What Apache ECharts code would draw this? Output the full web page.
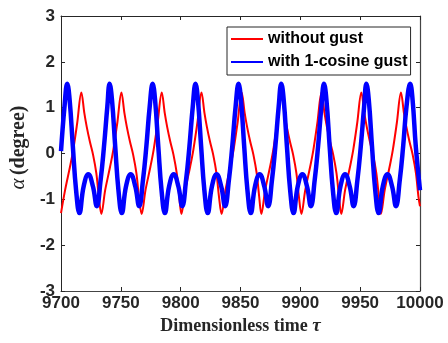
<!DOCTYPE html>
<html>
<head>
<meta charset="utf-8">
<script src="https://cdn.jsdelivr.net/npm/echarts@6/dist/echarts.min.js"></script>
<style>
html,body{margin:0;padding:0;background:#fff;}
#chart{width:448px;height:343px;}
</style>
</head>
<body>
<div id="chart"></div>
<script>
// ---- data ----
const xTicks = [9700, 9750, 9800, 9850, 9900, 9950, 10000];
const yTicks = [-3, -2, -1, 0, 1, 2, 3];
const seriesNames = ['without gust', 'with 1-cosine gust'];

const redTau = [
  9700.0, 9703.4, 9707.5, 9710.2, 9713.5, 9717.0, 9719.5, 9721.5, 9724.1, 9726.8, 9729.5, 9731.6,
  9733.7, 9736.9, 9741.0, 9743.7, 9747.0, 9750.5, 9753.0, 9755.0, 9757.6, 9760.3, 9763.0, 9765.1,
  9767.4, 9770.6, 9774.7, 9777.4, 9780.7, 9784.2, 9786.7, 9788.7, 9791.3, 9794.0, 9796.7, 9798.8,
  9800.6, 9803.8, 9807.9, 9810.6, 9813.9, 9817.4, 9819.9, 9821.9, 9824.5, 9827.2, 9829.9, 9832.0,
  9834.2, 9837.4, 9841.5, 9844.2, 9847.5, 9851.0, 9853.5, 9855.5, 9858.1, 9860.8, 9863.5, 9865.6,
  9867.4, 9870.6, 9874.7, 9877.4, 9880.7, 9884.2, 9886.7, 9888.7, 9891.3, 9894.0, 9896.7, 9898.8,
  9900.9, 9904.1, 9908.2, 9910.9, 9914.2, 9917.7, 9920.2, 9922.2, 9924.8, 9927.5, 9930.2, 9932.3,
  9934.2, 9937.4, 9941.5, 9944.2, 9947.5, 9951.0, 9953.5, 9955.5, 9958.1, 9960.8, 9963.5, 9965.6,
  9967.3, 9970.5, 9974.6, 9977.3, 9980.6, 9984.1, 9986.6, 9988.6, 9991.2, 9993.9, 9996.6, 9998.7,
  10000.0
];
const redAlpha = [
  -1.30, -0.80, -0.29, 0.08, 0.66, 1.33, 0.88, 0.58, 0.26, -0.03, -0.43, -0.94,
  -1.32, -0.80, -0.29, 0.08, 0.66, 1.33, 0.88, 0.58, 0.26, -0.03, -0.43, -0.94,
  -1.32, -0.80, -0.29, 0.08, 0.66, 1.33, 0.88, 0.58, 0.26, -0.03, -0.43, -0.94,
  -1.32, -0.80, -0.29, 0.08, 0.66, 1.33, 0.88, 0.58, 0.26, -0.03, -0.43, -0.94,
  -1.32, -0.80, -0.29, 0.08, 0.66, 1.33, 0.88, 0.58, 0.26, -0.03, -0.43, -0.94,
  -1.32, -0.80, -0.29, 0.08, 0.66, 1.33, 0.88, 0.58, 0.26, -0.03, -0.43, -0.94,
  -1.32, -0.80, -0.29, 0.08, 0.66, 1.33, 0.88, 0.58, 0.26, -0.03, -0.43, -0.94,
  -1.32, -0.80, -0.29, 0.08, 0.66, 1.33, 0.88, 0.58, 0.26, -0.03, -0.43, -0.94,
  -1.32, -0.80, -0.29, 0.08, 0.66, 1.33, 0.88, 0.58, 0.26, -0.03, -0.43, -0.94,
  -1.15
];

const blueTau = [
  9700.0, 9702.9,
  9705.2, 9707.2, 9709.9, 9712.6, 9715.4, 9718.9, 9722.8, 9726.7, 9729.9, 9733.1, 9735.9, 9738.7,
  9740.6, 9742.6, 9745.3, 9748.0, 9750.8, 9754.3, 9758.2, 9762.1, 9765.3, 9768.5, 9771.3, 9774.1,
  9776.6, 9778.6, 9781.3, 9784.0, 9786.8, 9790.3, 9794.2, 9798.1, 9801.3, 9804.5, 9807.3, 9810.1,
  9812.4, 9814.4, 9817.1, 9819.8, 9822.6, 9826.1, 9830.0, 9833.9, 9837.1, 9840.3, 9843.1, 9845.9,
  9848.4, 9850.4, 9853.1, 9855.8, 9858.6, 9862.1, 9866.0, 9869.9, 9873.1, 9876.3, 9879.1, 9881.9,
  9884.1, 9886.1, 9888.8, 9891.5, 9894.3, 9897.8, 9901.7, 9905.6, 9908.8, 9912.0, 9914.8, 9917.6,
  9919.8, 9921.8, 9924.5, 9927.2, 9930.0, 9933.5, 9937.4, 9941.3, 9944.5, 9947.7, 9950.5, 9953.3,
  9955.2, 9957.2, 9959.9, 9962.6, 9965.4, 9968.9, 9972.8, 9976.7, 9979.9, 9983.1, 9985.9, 9988.7,
  9991.8, 9993.8, 9996.5, 10000.0
];
const blueAlpha = [
  0.05, 1.02,
  1.52, 1.17, 0.15, -0.80, -1.30, -0.72, -0.45, -0.72, -1.15, -0.58, 0.15, 1.02,
  1.52, 1.17, 0.15, -0.80, -1.30, -0.72, -0.45, -0.72, -1.15, -0.58, 0.15, 1.02,
  1.52, 1.17, 0.15, -0.80, -1.30, -0.72, -0.45, -0.72, -1.15, -0.58, 0.15, 1.02,
  1.52, 1.17, 0.15, -0.80, -1.30, -0.72, -0.45, -0.72, -1.15, -0.58, 0.15, 1.02,
  1.52, 1.17, 0.15, -0.80, -1.30, -0.72, -0.45, -0.72, -1.15, -0.58, 0.15, 1.02,
  1.52, 1.17, 0.15, -0.80, -1.30, -0.72, -0.45, -0.72, -1.15, -0.58, 0.15, 1.02,
  1.52, 1.17, 0.15, -0.80, -1.30, -0.72, -0.45, -0.72, -1.15, -0.58, 0.15, 1.02,
  1.52, 1.17, 0.15, -0.80, -1.30, -0.72, -0.45, -0.72, -1.15, -0.58, 0.15, 1.02,
  1.52, 1.17, 0.15, -0.80
];

// ---- chart ----
const chart = echarts.init(document.getElementById('chart'), null, {renderer: 'canvas'});
const axisColor = '#262626';
const sans = '"Liberation Sans", Arial, Helvetica, sans-serif';
const serif = '"Liberation Serif", "Times New Roman", serif';

const redData = redTau.map((t, i) => [t, redAlpha[i]]);
const blueData = blueTau.map((t, i) => [t, blueAlpha[i]]);

function axisBase(lineColor, lineWidth) {
  return {
    axisLine: {show: true, onZero: false, lineStyle: {color: lineColor, width: lineWidth}},
    axisTick: {show: true, inside: true, length: 4, lineStyle: {color: axisColor, width: 1}},
    splitLine: {show: false}
  };
}

chart.setOption({
  animation: false,
  backgroundColor: '#ffffff',
  grid: {left: 55, right: 28, top: 16, bottom: 52, containLabel: false},
  legend: {
    orient: 'vertical',
    left: 227, top: 27,
    padding: [4, 3, 5, 3],
    itemWidth: 32, itemHeight: 16, itemGap: 7, itemTextGap: 5,
    backgroundColor: '#ffffff',
    borderColor: axisColor, borderWidth: 1,
    itemStyle: {opacity: 0},
    textStyle: {fontFamily: sans, fontWeight: 'bold', fontSize: 16, color: '#000'},
    data: seriesNames
  },
  xAxis: [
    Object.assign(axisBase('#444', 1.2), {
      type: 'value', position: 'bottom',
      min: xTicks[0], max: xTicks[xTicks.length - 1], interval: 50,
      axisLabel: {show: true, margin: 4, fontFamily: sans, fontWeight: 'bold', fontSize: 17, color: axisColor,
        formatter: v => String(v)},
      name: '{t|Dimensionless time }{g|τ}',
      nameLocation: 'middle', nameGap: 25,
      nameTextStyle: {rich: {
        t: {fontFamily: serif, fontWeight: 'bold', fontSize: 18, color: axisColor},
        g: {fontFamily: serif, fontStyle: 'italic', fontWeight: 'bold', fontSize: 19, color: axisColor}
      }}
    }),
    Object.assign(axisBase(axisColor, 1), {
      type: 'value', position: 'top',
      min: xTicks[0], max: xTicks[xTicks.length - 1], interval: 50,
      axisLabel: {show: false}
    })
  ],
  yAxis: [
    Object.assign(axisBase(axisColor, 1), {
      type: 'value', position: 'left',
      min: yTicks[0], max: yTicks[yTicks.length - 1], interval: 1,
      axisLabel: {show: true, margin: 6, fontFamily: sans, fontWeight: 'bold', fontSize: 17, color: axisColor},
      name: '{g|α} {t|(degree)}',
      nameLocation: 'middle', nameGap: 26,
      nameTextStyle: {padding: [0, 0, 0, 12], rich: {
        t: {fontFamily: serif, fontWeight: 'bold', fontSize: 20, color: axisColor},
        g: {fontFamily: serif, fontStyle: 'italic', fontSize: 21, color: axisColor}
      }}
    }),
    Object.assign(axisBase('#444', 1.2), {
      type: 'value', position: 'right',
      min: yTicks[0], max: yTicks[yTicks.length - 1], interval: 1,
      axisLabel: {show: false}
    })
  ],
  series: [
    {
      name: seriesNames[0], type: 'line', xAxisIndex: 0, yAxisIndex: 0,
      data: redData, showSymbol: false, symbol: 'none', smooth: 0.35,
      lineStyle: {color: '#ff0000', width: 2}, itemStyle: {color: '#ff0000'}, z: 2
    },
    {
      name: seriesNames[1], type: 'line', xAxisIndex: 0, yAxisIndex: 0,
      data: blueData, showSymbol: false, symbol: 'none', smooth: 0.45,
      lineStyle: {color: '#0000ff', width: 4.5}, itemStyle: {color: '#0000ff'}, z: 3
    }
  ]
});
</script>
</body>
</html>
